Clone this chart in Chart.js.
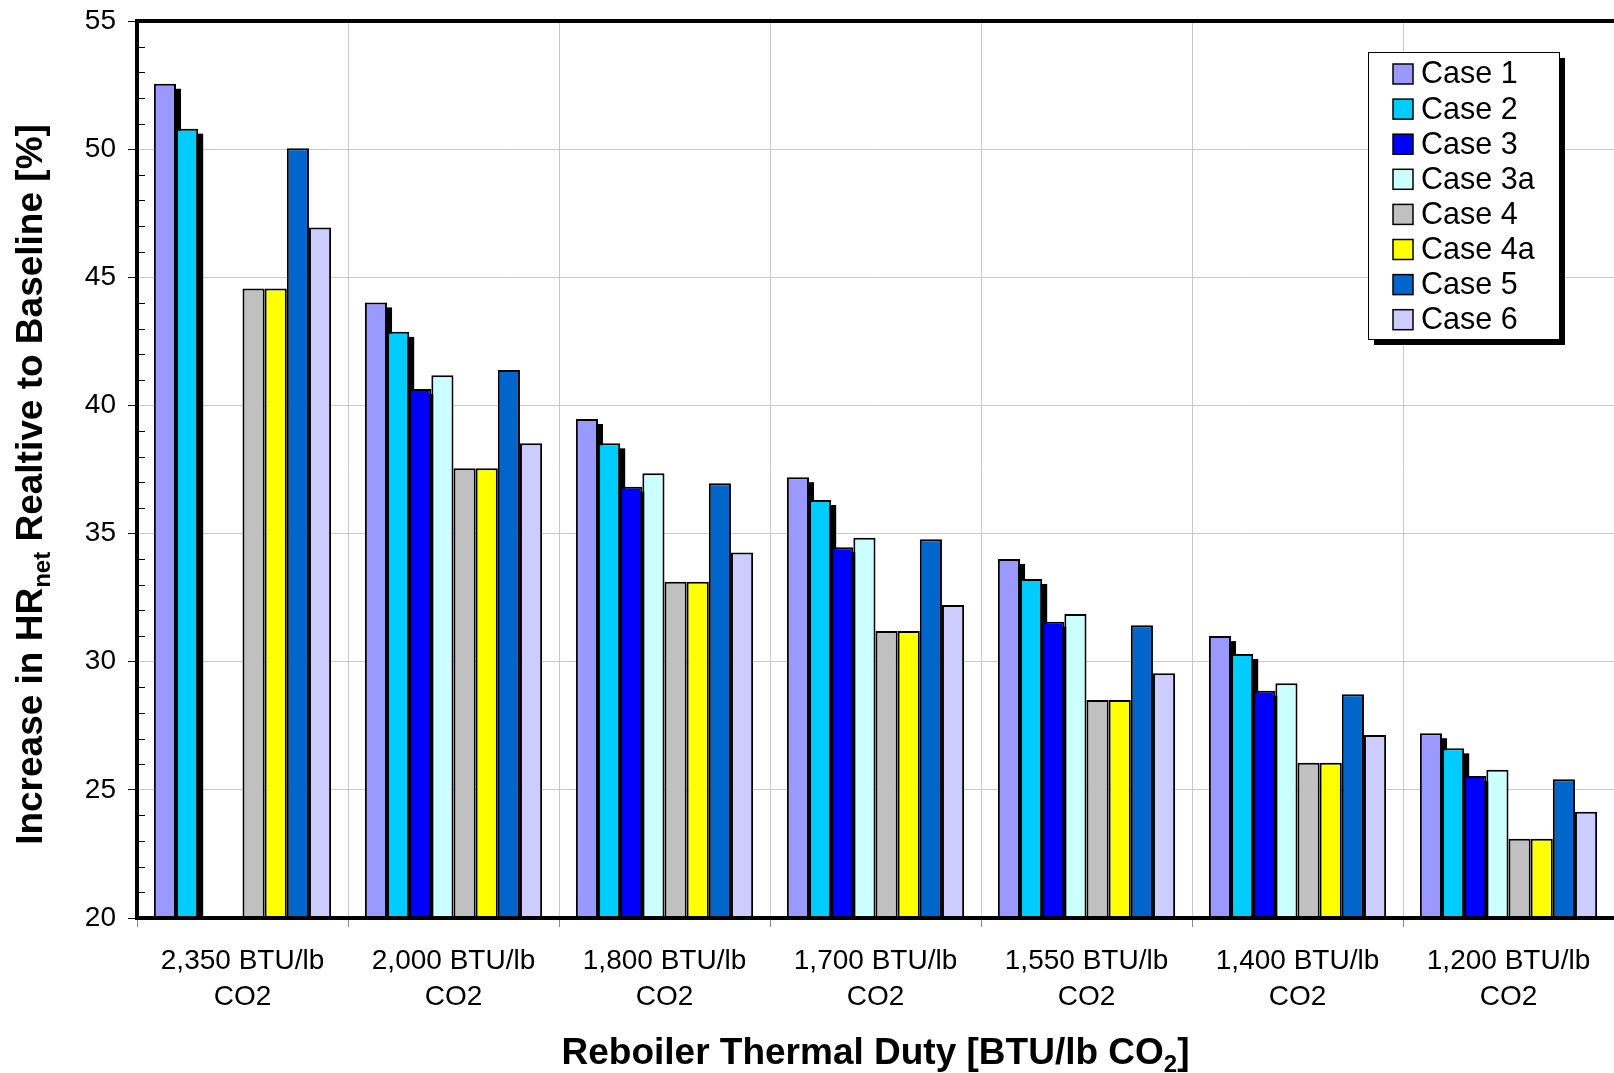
<!DOCTYPE html>
<html>
<head>
<meta charset="utf-8">
<script src="https://cdn.jsdelivr.net/npm/chart.js@4/dist/chart.umd.min.js"></script>
<style>
  html, body { margin: 0; padding: 0; background: #fff; }
  #wrap { width: 1614px; height: 1073px; }
</style>
</head>
<body>
<div id="wrap"><canvas id="hrChart"></canvas></div>
<script>
const duties = [
    ['2,350 BTU/lb', 'CO2'], ['2,000 BTU/lb', 'CO2'], ['1,800 BTU/lb', 'CO2'],
    ['1,700 BTU/lb', 'CO2'], ['1,550 BTU/lb', 'CO2'], ['1,400 BTU/lb', 'CO2'],
    ['1,200 BTU/lb', 'CO2']
];
const caseNames = ['Case 1', 'Case 2', 'Case 3', 'Case 3a', 'Case 4', 'Case 4a', 'Case 5', 'Case 6'];
const case1 = [52.55, 44.02, 39.47, 37.20, 34.01, 31.00, 27.21];
const case2 = [50.80, 42.87, 38.52, 36.31, 33.23, 30.30, 26.62];
const case3 = [null, 40.64, 36.83, 34.47, 31.56, 28.87, 25.54];
const case3a = [null, 41.18, 37.35, 34.84, 31.86, 29.16, 25.78];
const case4 = [44.56, 37.55, 33.12, 31.20, 28.51, 26.06, 23.09];
const case4a = [44.56, 37.55, 33.12, 31.20, 28.51, 26.06, 23.09];
const case5 = [50.03, 41.38, 36.96, 34.78, 31.42, 28.73, 25.41];
const case6 = [46.94, 38.52, 34.26, 32.21, 29.55, 27.14, 24.15];
const yTicks = [20, 25, 30, 35, 40, 45, 50, 55];

const colors = ['#9999FF', '#00CCFF', '#0000FF', '#CCFFFF', '#C0C0C0', '#FFFF00', '#0066CC', '#CCCCFF'];
const series = [case1, case2, case3, case3a, case4, case4a, case5, case6];
const shadowed = [0, 1, 2]; // first three cases have a drop shadow

const FONT = '"Liberation Sans", Arial, sans-serif';

// drop shadows behind bars
const barShadow = {
    id: 'barShadow',
    beforeDatasetsDraw(chart) {
        const ctx = chart.ctx, area = chart.chartArea;
        ctx.save();
        ctx.beginPath();
        ctx.rect(area.left, area.top, area.right - area.left, area.bottom - area.top);
        ctx.clip();
        ctx.fillStyle = '#000';
        shadowed.forEach(i => {
            chart.getDatasetMeta(i).data.forEach((bar, j) => {
                if (series[i][j] == null) return;
                const p = bar.getProps(['x', 'y', 'width', 'base'], true);
                ctx.fillRect(p.x - p.width / 2 + 5, p.y + 5, p.width, p.base - p.y);
            });
        });
        ctx.restore();
    }
};

// frame, minor ticks, axis titles, legend
const decorations = {
    id: 'decorations',
    afterDatasetsDraw(chart) {
        const ctx = chart.ctx, a = chart.chartArea, y = chart.scales.y;
        ctx.save();
        // minor ticks inside
        ctx.strokeStyle = '#000';
        ctx.lineWidth = 1;
        for (let v = 21; v < 55; v++) {
            if (v % 5 === 0) continue;
            const py = Math.round(y.getPixelForValue(v)) + 0.5;
            ctx.beginPath();
            ctx.moveTo(a.left, py);
            ctx.lineTo(a.left + 8, py);
            ctx.stroke();
        }
        // frame
        ctx.lineWidth = 4;
        ctx.beginPath();
        ctx.moveTo(a.right, a.top);
        ctx.lineTo(a.left, a.top);
        ctx.lineTo(a.left, a.bottom);
        ctx.lineTo(a.right, a.bottom);
        ctx.stroke();
        ctx.restore();
    },
    afterDraw(chart) {
        const ctx = chart.ctx, a = chart.chartArea;
        ctx.save();
        ctx.fillStyle = '#000';
        ctx.textBaseline = 'alphabetic';

        // x title with subscript
        const big = 'bold 37px ' + FONT, small = 'bold 24px ' + FONT;
        const xParts = [['Reboiler Thermal Duty [BTU/lb CO', big, 0], ['2', small, 8], [']', big, 0]];
        let w = 0;
        xParts.forEach(p => { ctx.font = p[1]; w += ctx.measureText(p[0]).width; });
        let x = (a.left + a.right) / 2 - w / 2;
        xParts.forEach(p => {
            ctx.font = p[1];
            ctx.fillText(p[0], x, 1064 + p[2]);
            x += ctx.measureText(p[0]).width;
        });

        // y title with subscript
        const yParts = [['Increase in HR', big, 0], ['net', small, 8], [' Realtive to Baseline [%]', big, 0]];
        w = 0;
        yParts.forEach(p => { ctx.font = p[1]; w += ctx.measureText(p[0]).width; });
        ctx.translate(42, (a.top + a.bottom) / 2 + 15);
        ctx.rotate(-Math.PI / 2);
        x = -w / 2;
        yParts.forEach(p => {
            ctx.font = p[1];
            ctx.fillText(p[0], x, p[2]);
            x += ctx.measureText(p[0]).width;
        });
        ctx.setTransform(1, 0, 0, 1, 0, 0);

        // legend
        const lx = 1368, ly = 52, lw = 191, lh = 287;
        ctx.fillStyle = '#000';
        ctx.fillRect(lx + 6, ly + 6, lw, lh);
        ctx.fillStyle = '#fff';
        ctx.fillRect(lx, ly, lw, lh);
        ctx.strokeStyle = '#000';
        ctx.lineWidth = 1;
        ctx.strokeRect(lx + 0.5, ly + 0.5, lw, lh);
        ctx.font = '30.5px ' + FONT;
        ctx.textBaseline = 'middle';
        chart.data.datasets.forEach((ds, i) => {
            const cy = ly + 22 + i * 35.1;
            ctx.fillStyle = ds.backgroundColor;
            ctx.fillRect(lx + 25, cy - 10, 20, 20);
            ctx.lineWidth = 1.5;
            ctx.strokeRect(lx + 25, cy - 10, 20, 20);
            ctx.fillStyle = '#000';
            ctx.fillText(ds.label, lx + 53, cy + 1);
        });
        ctx.restore();
    }
};

const data = {
    labels: duties,
    datasets: series.map((vals, i) => ({
        label: caseNames[i],
        data: vals,
        backgroundColor: colors[i],
        borderColor: '#000',
        borderWidth: 2,
        barPercentage: 1.0,
        categoryPercentage: 0.84
    }))
};

const config = {
    type: 'bar',
    data: data,
    options: {
        responsive: true,
        maintainAspectRatio: false,
        animation: false,
        layout: { padding: { top: 21, right: 0, left: 0, bottom: 0 } },
        scales: {
            x: {
                afterFit(scale) {
                    scale.height = 155;
                    scale.paddingLeft = 0;
                    scale.paddingRight = 0;
                },
                grid: {
                    color: '#C8C8C8',
                    lineWidth: 1,
                    tickColor: '#888',
                    tickLength: 9,
                    offset: true
                },
                border: { display: false },
                ticks: {
                    color: '#000',
                    padding: 16,
                    maxRotation: 0,
                    font: { family: FONT, size: 28, lineHeight: 1.3 }
                }
            },
            y: {
                min: 20,
                max: 55,
                afterFit(scale) {
                    scale.width = 137;
                    scale.paddingTop = 0;
                    scale.paddingBottom = 0;
                },
                afterBuildTicks(scale) { scale.ticks = yTicks.map(v => ({ value: v })); },
                grid: {
                    color: '#C8C8C8',
                    lineWidth: 1,
                    tickColor: '#000',
                    tickLength: 9
                },
                border: { display: false },
                ticks: {
                    color: '#000',
                    padding: 12,
                    font: { family: FONT, size: 28 }
                }
            }
        },
        plugins: {
            legend: { display: false },
            tooltip: { enabled: false }
        }
    },
    plugins: [barShadow, decorations]
};

const hrChart = new Chart(document.getElementById('hrChart').getContext('2d'), config);
</script>
</body>
</html>
